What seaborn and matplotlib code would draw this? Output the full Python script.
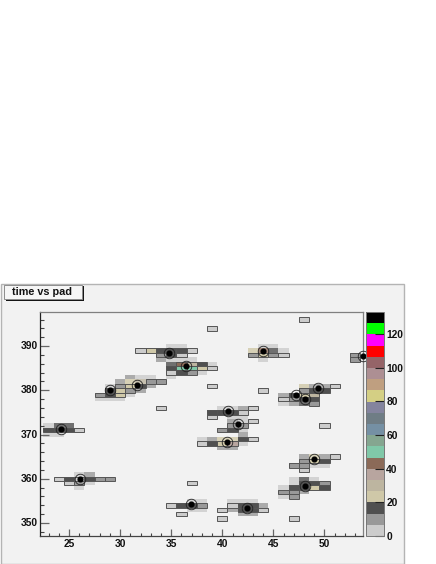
import numpy as np
import pandas as pd
import matplotlib
matplotlib.use("Agg")
import matplotlib.pyplot as plt
from matplotlib.colors import ListedColormap
from matplotlib.patches import Rectangle
from matplotlib.ticker import FixedLocator, FixedFormatter, NullFormatter
import seaborn as sns

palette = ["#cccccc", "#999999", "#505050", "#cfc8a8", "#bdb5a0", "#b8a59f", "#8b6a58",
           "#80c8a8", "#85a690", "#7590a4", "#6f7d85", "#84849e", "#d4cf84", "#bf9f80",
           "#ad8f93", "#956468", "#ff0000", "#ff00ff", "#00ff00", "#000000"]
z_max = 133

box_cells = [
    (23,371,16),(24,371,16),(25,371,17),(26,371,4),
    (24,360,4),(25,360,16),(26,360,5),(27,360,16),(28,360,10),(29,360,10),(25,359,4),(26,359,13),
    (28,379,10),(29,379,17),(30,379,22),(29,380,16),(30,380,22),(31,380,10),(30,381,10),(31,381,22),
    (32,381,16),(33,382,12),(34,382,10),
    (32,389,4),(33,389,22),(34,389,16),(35,389,17),(36,389,16),(37,389,4),(34,388,10),(35,388,16),(36,388,4),
    (35,385,16),(36,385,50),(37,385,50),(38,385,22),(39,385,4),(36,386,43),(37,386,30),(38,386,16),
    (35,384,4),(36,384,16),(37,384,10),
    (39,394,5),(39,381,5),(34,376,5),(48,396,5),(44,380,5),(50,372,5),(37,359,5),(36,352,6),(40,351,5),(47,351,5),
    (43,388,10),(44,388,22),(45,388,10),(46,388,4),(53,388,10),(53,387,10),
    (51,381,4),(48,380,10),(49,380,16),(50,380,16),(47,379,16),(48,379,22),(49,379,28),(46,378,4),
    (47,378,10),(48,378,16),(49,378,17),(49,377,10),
    (39,375,16),(40,375,16),(41,375,16),(42,375,4),(39,374,4),(43,376,4),
    (43,373,4),(41,372,10),(42,372,10),(40,371,10),(41,371,16),
    (38,368,4),(39,368,16),(40,368,22),(41,368,36),(42,369,16),(43,369,4),
    (51,365,4),(48,364,10),(49,364,22),(50,364,16),(47,363,10),(48,363,10),(48,362,4),
    (47,358,16),(48,358,16),(49,358,22),(50,358,16),(48,359,16),(49,359,16),(50,359,10),
    (46,357,10),(47,357,10),(47,356,10),
    (35,354,4),(36,354,16),(37,354,16),(38,354,10),
    (40,353,4),(41,354,4),(42,354,16),(43,354,16),(44,353,4),(42,353,16),(43,353,16),
]
halo_cells = [
    (24,372,16),(25,372,16),(23,372,3),(23,370,3),(24,370,3),
    (26,361,3),(27,361,10),(27,359,5),(26,358,4),
    (31,383,10),(32,383,3),(33,383,3),(30,382,10),(31,382,22),(32,382,30),(32,380,10),(33,381,10),
    (28,378,3),(29,378,3),(30,378,3),(31,379,3),(29,381,3),
    (35,390,3),(36,390,3),(34,387,10),(35,387,3),
    (35,386,16),(35,383,3),(36,387,3),(37,387,3),(38,384,3),(39,386,3),
    (43,389,22),(44,389,43),(45,389,16),(44,390,3),(45,390,3),(44,387,3),(46,389,3),
    (48,381,22),(49,381,10),(50,381,10),(46,379,10),(46,377,3),(47,377,10),(48,377,16),
    (40,376,3),(41,376,3),(42,376,10),
    (42,373,3),(41,374,3),(42,374,3),(42,371,3),(41,373,10),
    (42,368,3),(38,369,3),(39,369,10),(40,369,22),(41,369,22),(40,367,10),(41,367,10),(42,370,10),
    (48,365,10),(49,365,22),(50,365,10),(49,363,3),(50,363,3),
    (47,360,3),(48,360,16),(49,360,3),(47,359,3),(46,358,3),(48,357,10),(46,356,3),
    (37,355,3),(38,355,3),(37,353,3),(38,353,3),
    (41,355,3),(42,355,3),(43,355,3),(44,354,10),(41,353,10),(42,352,10),(43,352,10),
]
centre_x = [24.2,26.1,29.0,31.7,34.75,36.45,44.0,53.77,49.4,47.2,48.1,40.6,41.5,40.5,49.0,48.1,36.9,42.4]
centre_y = [371.2,359.9,380.0,381.2,388.5,385.4,388.8,387.7,380.5,379.0,378.0,375.4,372.4,368.3,364.4,358.4,354.2,353.5]

pads = np.arange(22, 55)
times = np.arange(347, 399)
x_ticks = [25, 30, 35, 40, 45, 50]
y_ticks = [350, 360, 370, 380, 390]
z_ticks = [0, 20, 40, 60, 80, 100, 120]


def grid(cells):
    df = pd.DataFrame(cells, columns=["pad", "time", "adc"])
    return df.pivot_table(index="time", columns="pad", values="adc").reindex(index=times, columns=pads)


W, H = 436, 564
PANEL = "#f2f2f2"
plt.rcParams["font.family"] = ["Liberation Sans", "DejaVu Sans"]
fig = plt.figure(figsize=(W / 100, H / 100), dpi=100, facecolor="white")
fig.add_artist(Rectangle((1 / W, 0.5 / H), 403 / W, 279.5 / H, transform=fig.transFigure,
                         facecolor=PANEL, edgecolor="#b4b4b4", lw=1, zorder=-5))


def fr(x0, y0, x1, y1):
    return [x0 / W, 1 - y1 / H, (x1 - x0) / W, (y1 - y0) / H]


ax = fig.add_axes(fr(40, 312, 363, 536))
cax = fig.add_axes(fr(365.5, 312, 383.5, 536))
ax.set_facecolor(PANEL)
cmap = ListedColormap(palette)

sns.heatmap(grid(halo_cells), ax=ax, cmap=cmap, vmin=0, vmax=z_max, cbar=False, alpha=0.8,
            linewidths=0, square=False)
sns.heatmap(grid(box_cells), ax=ax, cmap=cmap, vmin=0, vmax=z_max, cbar=True, cbar_ax=cax,
            linewidths=0, square=False)


def xpos(v):
    return np.asarray(v, float) - pads[0] + 0.5


def ypos(v):
    return np.asarray(v, float) - times[0] + 0.5


# outline of each filled bin of the main histogram (box option)
for px, ty, _ in box_cells:
    ax.add_patch(Rectangle((xpos(px) - 0.5, ypos(ty) - 0.5), 1, 1, facecolor="none",
                           edgecolor="#555555", lw=0.7, zorder=3))

ax.set_xlim(xpos(22.16), xpos(53.77))
ax.set_ylim(ypos(347.06), ypos(397.7))
ax.set_xlabel("")
ax.set_ylabel("")
ax.xaxis.set_major_locator(FixedLocator(xpos(x_ticks)))
ax.xaxis.set_major_formatter(FixedFormatter([str(v) for v in x_ticks]))
ax.xaxis.set_minor_locator(FixedLocator(xpos(np.arange(23, 54))))
ax.xaxis.set_minor_formatter(NullFormatter())
ax.yaxis.set_major_locator(FixedLocator(ypos(y_ticks)))
ax.yaxis.set_major_formatter(FixedFormatter([str(v) for v in y_ticks]))
ax.yaxis.set_minor_locator(FixedLocator(ypos(np.arange(348, 398, 2))))
ax.yaxis.set_minor_formatter(NullFormatter())
ax.tick_params(axis="x", which="major", direction="in", length=4.7, width=0.9, color="#666666", pad=2.5,
               labelsize=7.4, labelrotation=0)
ax.tick_params(axis="x", which="minor", direction="in", length=2.3, width=0.8, color="#444444")
ax.tick_params(axis="y", which="major", direction="in", length=6.6, width=0.9, color="#666666", pad=1.5,
               labelsize=7.4, labelrotation=0)
ax.tick_params(axis="y", which="minor", direction="in", length=3.2, width=0.8, color="#444444")
for lab in ax.get_xticklabels() + ax.get_yticklabels():
    lab.set_fontweight("bold")
    lab.set_color("#111111")
for side, col in {"left": "#222222", "bottom": "#444444", "top": "#808080", "right": "#808080"}.items():
    ax.spines[side].set_visible(True)
    ax.spines[side].set_color(col)
    ax.spines[side].set_linewidth(0.9)

ax.plot(xpos(centre_x), ypos(centre_y), ls="none", marker="o", ms=3.4, mfc="black", mec="black",
        clip_on=False, zorder=5)
ax.plot(xpos(centre_x), ypos(centre_y), ls="none", marker="o", ms=7.6, mfc="none", mec="#222222", mew=0.6,
        clip_on=False, zorder=5)

cbar = ax.collections[1].colorbar
cbar.set_ticks(z_ticks)
cbar.set_ticklabels([str(v) for v in z_ticks])
cbar.ax.tick_params(direction="in", length=6.6, width=0.8, color="#222222", pad=2, labelsize=7.4, right=True)
for lab in cbar.ax.get_yticklabels():
    lab.set_fontweight("bold")
    lab.set_color("#111111")
cbar.outline.set_visible(True)
cbar.outline.set_edgecolor("#777777")
cbar.outline.set_linewidth(0.7)

# title box
fig.add_artist(Rectangle((6 / W, 1 - 301 / H), 78 / W, 15 / H, transform=fig.transFigure,
                         facecolor="#151515", edgecolor="none", zorder=-4))
fig.add_artist(Rectangle((4 / W, 1 - 299 / H), 78 / W, 14 / H, transform=fig.transFigure,
                         facecolor="#f6f6f6", edgecolor="#8c8c8c", lw=0.7, zorder=-3))
fig.text(12 / W, 1 - 292.3 / H, "time vs pad", fontsize=7.8, fontweight="bold", color="#111111",
         ha="left", va="center")

fig.savefig("out.png", dpi=100, facecolor="white")
